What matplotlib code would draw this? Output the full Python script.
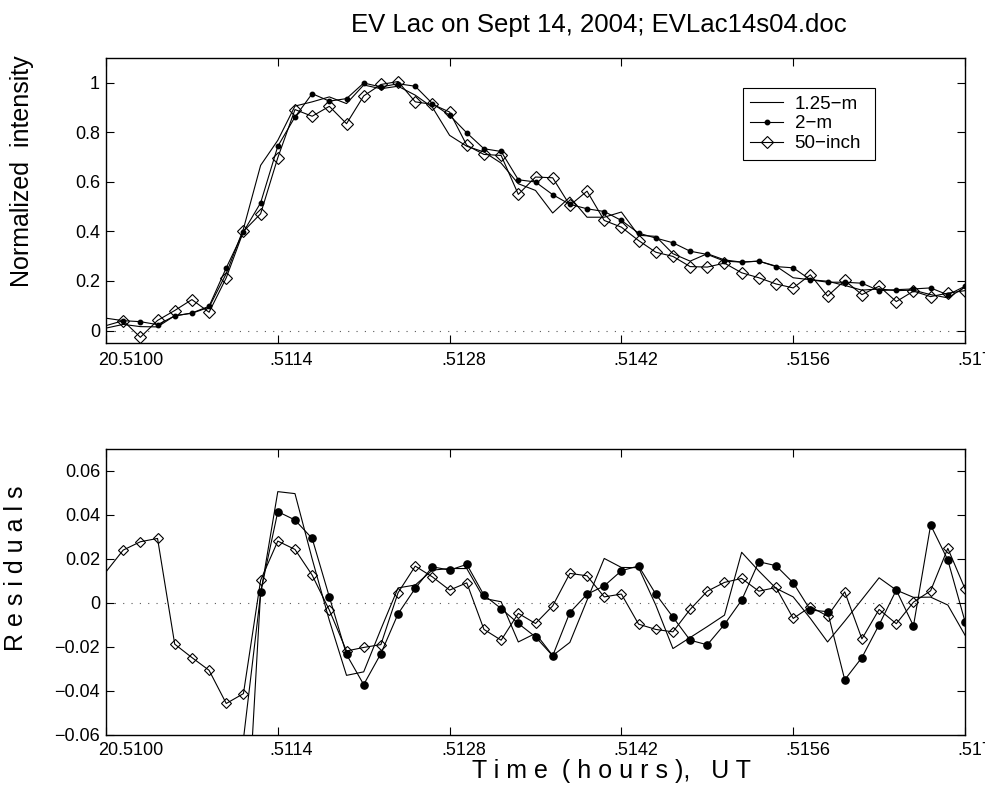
import matplotlib
matplotlib.use('Agg')
import matplotlib.pyplot as plt
from matplotlib.transforms import blended_transform_factory, ScaledTranslation
import numpy as np

plt.rcParams['font.family'] = ['Liberation Sans', 'DejaVu Sans']
plt.rcParams['axes.unicode_minus'] = True

# ---------------- data ----------------
time_ut = [20.51000, 20.51014, 20.51028, 20.51042, 20.51056, 20.51070, 20.51084,
           20.51098, 20.51112, 20.51126, 20.51140, 20.51154, 20.51168, 20.51182,
           20.51196, 20.51210, 20.51224, 20.51238, 20.51252, 20.51266, 20.51280,
           20.51294, 20.51308, 20.51322, 20.51336, 20.51350, 20.51364, 20.51378,
           20.51392, 20.51406, 20.51420, 20.51434, 20.51448, 20.51462, 20.51476,
           20.51490, 20.51504, 20.51518, 20.51532, 20.51546, 20.51560, 20.51574,
           20.51588, 20.51602, 20.51616, 20.51630, 20.51644, 20.51658, 20.51672,
           20.51686, 20.51700]

intensity_125m = [0.010, 0.025, 0.016, 0.015, 0.060, 0.070, 0.094, 0.230, 0.410, 0.666,
                  0.767, 0.905, 0.922, 0.942, 0.915, 0.990, 0.975, 0.985, 0.949, 0.900,
                  0.787, 0.743, 0.720, 0.675, 0.592, 0.565, 0.474, 0.538, 0.457, 0.457,
                  0.478, 0.384, 0.380, 0.310, 0.280, 0.310, 0.285, 0.276, 0.280, 0.260,
                  0.213, 0.205, 0.199, 0.182, 0.163, 0.168, 0.161, 0.163, 0.145, 0.132,
                  0.175]

intensity_2m = [0.050, 0.040, 0.036, 0.024, 0.059, 0.071, 0.098, 0.253, 0.398, 0.515,
                0.743, 0.861, 0.955, 0.925, 0.935, 0.998, 0.982, 0.995, 0.985, 0.915,
                0.868, 0.797, 0.733, 0.722, 0.608, 0.599, 0.548, 0.509, 0.491, 0.480,
                0.444, 0.393, 0.373, 0.354, 0.320, 0.307, 0.280, 0.276, 0.280, 0.258,
                0.253, 0.205, 0.195, 0.195, 0.191, 0.161, 0.165, 0.168, 0.172, 0.144,
                0.179]

intensity_50in = [0.020, 0.040, -0.027, 0.041, 0.081, 0.125, 0.074, 0.213, 0.400, 0.471,
                  0.697, 0.891, 0.864, 0.904, 0.834, 0.946, 0.992, 1.004, 0.922, 0.912,
                  0.881, 0.747, 0.710, 0.706, 0.549, 0.619, 0.616, 0.505, 0.562, 0.444,
                  0.417, 0.363, 0.316, 0.299, 0.258, 0.256, 0.272, 0.233, 0.213, 0.188,
                  0.172, 0.225, 0.139, 0.202, 0.145, 0.179, 0.117, 0.159, 0.137, 0.151,
                  0.161]

nan = float('nan')
resid_125m = [nan, nan, nan, nan, nan, nan, nan, nan, -0.062, 0.004,
              0.0506, 0.0497, 0.0200, -0.0080, -0.0330, -0.0314, -0.0120, 0.0068, 0.0081, 0.0149,
              0.0156, 0.0156, 0.0020, 0.0005, -0.0178, -0.0139, -0.0240, -0.0180, 0.0012, 0.0202,
              0.0161, 0.0160, -0.0010, -0.0208, -0.0158, -0.0108, -0.0056, 0.0230, 0.0145, 0.0066,
              0.0027, -0.0071, -0.0178, -0.0083, 0.0015, 0.0114, 0.0058, 0.0025, 0.0026, -0.0010,
              -0.0147]

resid_2m = [nan, nan, nan, nan, nan, nan, nan, nan, -0.133, 0.0048,
            0.0415, 0.0377, 0.0293, 0.0027, -0.0235, -0.0372, -0.0231, -0.0050, 0.0066, 0.0164,
            0.0149, 0.0175, 0.0035, -0.0026, -0.0094, -0.0155, -0.0241, -0.0044, 0.0039, 0.0077,
            0.0146, 0.0168, 0.0040, -0.0065, -0.0170, -0.0191, -0.0098, 0.0012, 0.0187, 0.0169,
            0.0091, -0.0033, -0.0040, -0.0350, -0.0249, -0.0100, 0.0058, -0.0105, 0.0354, 0.0195,
            -0.0085]

resid_50in = [0.0141, 0.0240, 0.0278, 0.0293, -0.0188, -0.0249, -0.0307, -0.0458, -0.0413, 0.0103,
              0.0281, 0.0243, 0.0126, -0.0033, -0.0219, -0.0203, -0.0190, 0.0046, 0.0167, 0.0118,
              0.0058, 0.0091, -0.0121, -0.0170, -0.0048, -0.0094, -0.0014, 0.0134, 0.0123, 0.0027,
              0.0040, -0.0097, -0.0121, -0.0132, -0.0030, 0.0053, 0.0093, 0.0111, 0.0053, 0.0070,
              -0.0071, -0.0018, -0.0060, 0.0050, -0.0164, -0.0030, -0.0095, 0.0003, 0.0055, 0.0248,
              0.0064]

series_labels = ['1.25\u2212m', '2\u2212m', '50\u2212inch']
xtick_vals = [20.5100, 20.5114, 20.5128, 20.5142, 20.5156, 20.5170]
xtick_labels = ['20.5100', '.5114', '.5128', '.5142', '.5156', '.5170']
top_yticks = [0, 0.2, 0.4, 0.6, 0.8, 1.0]
top_ytick_labels = ['0', '0.2', '0.4', '0.6', '0.8', '1']
bot_yticks = [-0.06, -0.04, -0.02, 0, 0.02, 0.04, 0.06]
bot_ytick_labels = ['\u22120.06', '\u22120.04', '\u22120.02', '0', '0.02', '0.04', '0.06']

title_text = 'EV Lac on Sept 14, 2004; EVLac14s04.doc'
top_ylabel = 'Normalized  intensity'
bot_ylabel = 'R e s i d u a l s'
bot_xlabel = 'T i m e  ( h o u r s ),   U T'

# ---------------- figure ----------------
W, H = 985, 785
fig = plt.figure(figsize=(W / 100, H / 100), dpi=100)


def px_axes(l, t, r, b):
    return [l / W, 1 - b / H, (r - l) / W, (b - t) / H]


ax1 = fig.add_axes(px_axes(106, 57.7, 965, 343))
ax2 = fig.add_axes(px_axes(106, 449, 965, 734.7))

lw = 0.8
# top panel
ax1.axhline(0, color='0.35', lw=0.8, ls=(0, (1, 6.5)), zorder=1)
ax1.plot(time_ut, intensity_125m, color='k', lw=lw, label=series_labels[0])
ax1.plot(time_ut, intensity_2m, color='k', lw=lw, marker='o', ms=3.2,
         markevery=slice(1, None), label=series_labels[1])
ax1.plot(time_ut, intensity_50in, color='k', lw=lw, marker='D', ms=6.2, mfc='none',
         mew=0.8, markevery=slice(1, None), label=series_labels[2])
ax1.set_xlim(20.5100, 20.5170)
ax1.set_ylim(-0.05, 1.1)
ax1.set_yticks(top_yticks)
ax1.set_yticklabels(top_ytick_labels)

# bottom panel
ax2.axhline(0, color='0.35', lw=0.8, ls=(0, (1, 6.5)), zorder=1)
ax2.plot(time_ut, resid_125m, color='k', lw=lw)
ax2.plot(time_ut, resid_2m, color='k', lw=lw, marker='o', ms=5.2)
ax2.plot(time_ut, resid_50in, color='k', lw=lw, marker='D', ms=5.6, mfc='none',
         mew=0.8, markevery=slice(1, None))
ax2.set_xlim(20.5100, 20.5170)
ax2.set_ylim(-0.06, 0.07)
ax2.set_yticks(bot_yticks)
ax2.set_yticklabels(bot_ytick_labels)

for ax, ydown in ((ax1, 8.6), (ax2, 6.9)):
    ax.set_xticks(xtick_vals)
    ax.tick_params(direction='in', length=5.5, width=0.8, top=True, right=True,
                   labelsize=13, pad=4.3, labelbottom=False)
    for s in ax.spines.values():
        s.set_linewidth(1.0)
    trans = blended_transform_factory(ax.transData, ax.transAxes) + \
        ScaledTranslation(-8 / 100, -ydown / 100, fig.dpi_scale_trans)
    for xv, lab in zip(xtick_vals, xtick_labels):
        ax.text(xv, 0, lab, transform=trans, ha='left', va='top', fontsize=13,
                clip_on=False)

# legend box: pixels (743, 88) -> (875, 158)
lx0 = (743 - 106) / 859
lw_ax = (875 - 743) / 859
ly0 = (343 - 158) / 285.3
lh_ax = (158 - 88) / 285.3
leg = ax1.legend(loc='upper left', bbox_to_anchor=(lx0, ly0, lw_ax, lh_ax),
                 mode='expand', borderaxespad=0,
                 frameon=True, fancybox=False, edgecolor='k', framealpha=1,
                 fontsize=13.5, handlelength=1.75, handletextpad=0.6,
                 labelspacing=0.14, borderpad=0.4)
leg.get_frame().set_linewidth(0.8)

fig.text(599 / W, 1 - 25 / H, title_text, ha='center', va='center', fontsize=18.5)
fig.text(22 / W, 1 - 171 / H, top_ylabel, rotation=90, ha='center', va='center', fontsize=18)
fig.text(16 / W, 1 - 568 / H, bot_ylabel, rotation=90, ha='center', va='center', fontsize=18)
fig.text(612 / W, 1 - 771 / H, bot_xlabel, ha='center', va='center', fontsize=18)

fig.savefig('out.png', dpi=100)
